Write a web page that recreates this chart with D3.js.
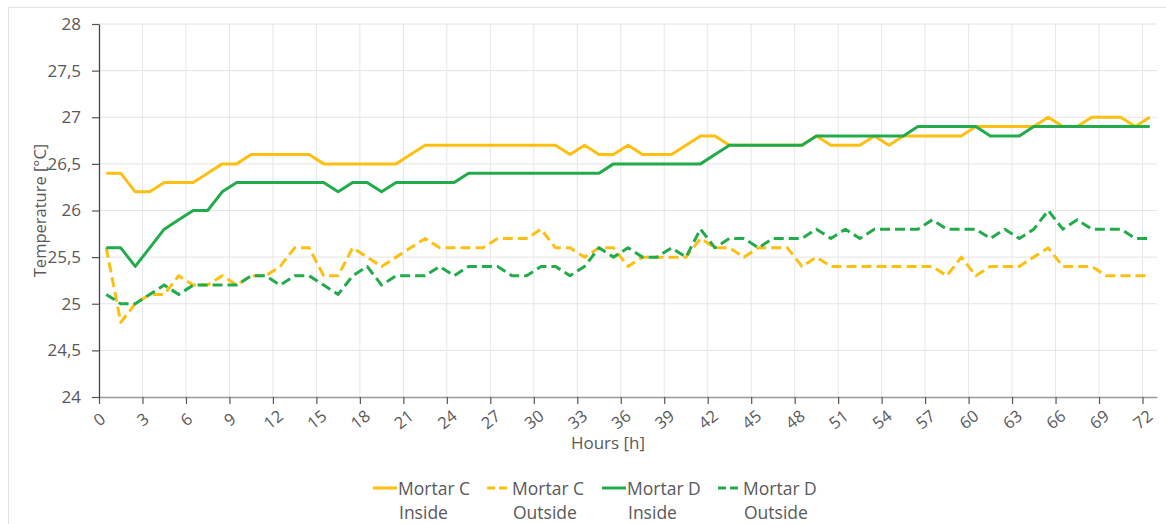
<!DOCTYPE html>
<html>
<head>
<meta charset="utf-8">
<script src="https://cdn.jsdelivr.net/npm/d3@7"></script>
<style>
  body { margin: 0; background: #fff; }
  svg { display: block; font-family: "Open Sans", sans-serif; }
</style>
</head>
<body>
<svg id="chart" width="1166" height="524"></svg>
<script>
// hourly readings, 0..72 h
const hours = d3.range(0, 73);
const xTicks = d3.range(0, 73, 3);
const yTicks = [24, 24.5, 25, 25.5, 26, 26.5, 27, 27.5, 28];

const mortarCInside = [
  26.4, 26.4, 26.2, 26.2, 26.3, 26.3, 26.3, 26.4, 26.5, 26.5,
  26.6, 26.6, 26.6, 26.6, 26.6, 26.5, 26.5, 26.5, 26.5, 26.5,
  26.5, 26.6, 26.7, 26.7, 26.7, 26.7, 26.7, 26.7, 26.7, 26.7,
  26.7, 26.7, 26.6, 26.7, 26.6, 26.6, 26.7, 26.6, 26.6, 26.6,
  26.7, 26.8, 26.8, 26.7, 26.7, 26.7, 26.7, 26.7, 26.7, 26.8,
  26.7, 26.7, 26.7, 26.8, 26.7, 26.8, 26.8, 26.8, 26.8, 26.8,
  26.9, 26.9, 26.9, 26.9, 26.9, 27.0, 26.9, 26.9, 27.0, 27.0,
  27.0, 26.9, 27.0
];
const mortarCOutside = [
  25.6, 24.8, 25.0, 25.1, 25.1, 25.3, 25.2, 25.2, 25.3, 25.2,
  25.3, 25.3, 25.4, 25.6, 25.6, 25.3, 25.3, 25.6, 25.5, 25.4,
  25.5, 25.6, 25.7, 25.6, 25.6, 25.6, 25.6, 25.7, 25.7, 25.7,
  25.8, 25.6, 25.6, 25.5, 25.6, 25.6, 25.4, 25.5, 25.5, 25.5,
  25.5, 25.7, 25.6, 25.6, 25.5, 25.6, 25.6, 25.6, 25.4, 25.5,
  25.4, 25.4, 25.4, 25.4, 25.4, 25.4, 25.4, 25.4, 25.3, 25.5,
  25.3, 25.4, 25.4, 25.4, 25.5, 25.6, 25.4, 25.4, 25.4, 25.3,
  25.3, 25.3, 25.3
];
const mortarDInside = [
  25.6, 25.6, 25.4, 25.6, 25.8, 25.9, 26.0, 26.0, 26.2, 26.3,
  26.3, 26.3, 26.3, 26.3, 26.3, 26.3, 26.2, 26.3, 26.3, 26.2,
  26.3, 26.3, 26.3, 26.3, 26.3, 26.4, 26.4, 26.4, 26.4, 26.4,
  26.4, 26.4, 26.4, 26.4, 26.4, 26.5, 26.5, 26.5, 26.5, 26.5,
  26.5, 26.5, 26.6, 26.7, 26.7, 26.7, 26.7, 26.7, 26.7, 26.8,
  26.8, 26.8, 26.8, 26.8, 26.8, 26.8, 26.9, 26.9, 26.9, 26.9,
  26.9, 26.8, 26.8, 26.8, 26.9, 26.9, 26.9, 26.9, 26.9, 26.9,
  26.9, 26.9, 26.9
];
const mortarDOutside = [
  25.1, 25.0, 25.0, 25.1, 25.2, 25.1, 25.2, 25.2, 25.2, 25.2,
  25.3, 25.3, 25.2, 25.3, 25.3, 25.2, 25.1, 25.3, 25.4, 25.2,
  25.3, 25.3, 25.3, 25.4, 25.3, 25.4, 25.4, 25.4, 25.3, 25.3,
  25.4, 25.4, 25.3, 25.4, 25.6, 25.5, 25.6, 25.5, 25.5, 25.6,
  25.5, 25.8, 25.6, 25.7, 25.7, 25.6, 25.7, 25.7, 25.7, 25.8,
  25.7, 25.8, 25.7, 25.8, 25.8, 25.8, 25.8, 25.9, 25.8, 25.8,
  25.8, 25.7, 25.8, 25.7, 25.8, 26.0, 25.8, 25.9, 25.8, 25.8,
  25.8, 25.7, 25.7
];

const series = [
  { label: ["Mortar C", "Inside"], values: mortarCInside, color: "#FDBF11", dash: null },
  { label: ["Mortar C", "Outside"], values: mortarCOutside, color: "#FDBF11", dash: "10,5" },
  { label: ["Mortar D", "Inside"], values: mortarDInside, color: "#22AB4B", dash: null },
  { label: ["Mortar D", "Outside"], values: mortarDOutside, color: "#22AB4B", dash: "10,5" }
];

const svg = d3.select("#chart");
const margin = { top: 24, right: 9, bottom: 127, left: 99 };
const width = 1166 - margin.left - margin.right;
const height = 524 - margin.top - margin.bottom;

// outer frame of the figure (cut off at right/bottom)
svg.append("rect")
  .attr("x", 8.5).attr("y", 7.5)
  .attr("width", 1200).attr("height", 600)
  .attr("fill", "none").attr("stroke", "#e3e3e3");

const g = svg.append("g").attr("transform", `translate(${margin.left},${margin.top})`);

// category-style axis: each hour occupies one slot, points sit in the middle
const x = d3.scaleLinear().domain([0, 73]).range([0, width]);
const y = d3.scaleLinear().domain([24, 28]).range([height, 0]);
const fmt = d => String(d).replace(".", ",");

// grid
g.append("g").selectAll("line").data(yTicks.slice(1)).join("line")
  .attr("x1", 0).attr("x2", width)
  .attr("y1", d => y(d)).attr("y2", d => y(d))
  .attr("stroke", "#e4e4e4").attr("stroke-width", 1);
g.append("g").selectAll("line").data(xTicks.slice(1)).join("line")
  .attr("x1", d => x(d)).attr("x2", d => x(d))
  .attr("y1", 0).attr("y2", height)
  .attr("stroke", "#e6e6e6").attr("stroke-width", 1);

// x axis
const xAxis = g.append("g")
  .attr("transform", `translate(0,${height})`)
  .call(d3.axisBottom(x).tickValues(xTicks).tickSize(7).tickSizeOuter(0).tickFormat(""));
xAxis.select(".domain").attr("stroke", "#9a9a9a").attr("stroke-width", 1.3);
xAxis.selectAll(".tick line").attr("stroke", "#555").attr("stroke-width", 1.2);
g.append("g").selectAll("text").data(xTicks).join("text")
  .attr("transform", d => `translate(${x(d)},${height + 22}) rotate(-38)`)
  .attr("text-anchor", "middle")
  .attr("dominant-baseline", "central")
  .attr("fill", "#595959")
  .attr("font-size", 16.5)
  .text(d => d);

// y axis
const yAxis = g.append("g")
  .call(d3.axisLeft(y).tickValues(yTicks).tickSize(7).tickSizeOuter(0).tickPadding(11).tickFormat(fmt));
yAxis.select(".domain").attr("stroke", "#444").attr("stroke-width", 1.3);
yAxis.selectAll(".tick line").attr("stroke", "#555").attr("stroke-width", 1.2);
yAxis.selectAll(".tick text").attr("fill", "#595959").attr("font-size", 17)
  .attr("font-family", "Open Sans, sans-serif");

// axis titles
svg.append("text")
  .attr("transform", `translate(39,${margin.top + height / 2}) rotate(-90)`)
  .attr("text-anchor", "middle")
  .attr("dominant-baseline", "central")
  .attr("fill", "#595959").attr("font-size", 16.5)
  .text("Temperature [°C]");
svg.append("text")
  .attr("x", 608).attr("y", 442)
  .attr("text-anchor", "middle")
  .attr("dominant-baseline", "central")
  .attr("fill", "#595959").attr("font-size", 17)
  .text("Hours [h]");

// lines
const line = d3.line()
  .x((d, i) => x(hours[i] + 0.5))
  .y(d => y(d));

series.forEach(s => {
  g.append("path")
    .datum(s.values)
    .attr("fill", "none")
    .attr("stroke", s.color)
    .attr("stroke-width", 3)
    .attr("stroke-linejoin", "round")
    .attr("stroke-dasharray", s.dash)
    .attr("d", line);
});

// legend
const legendX = [373, 487, 602, 718];
const legend = svg.append("g");
series.forEach((s, i) => {
  const lg = legend.append("g").attr("transform", `translate(${legendX[i]},488)`);
  lg.append("line")
    .attr("x1", 0).attr("x2", 24)
    .attr("stroke", s.color).attr("stroke-width", 3)
    .attr("stroke-dasharray", s.dash ? "8,4" : null);
  lg.append("text")
    .attr("x", 25).attr("y", 0)
    .attr("dominant-baseline", "central")
    .attr("fill", "#595959").attr("font-size", 17.5)
    .text(s.label[0]);
  lg.append("text")
    .attr("x", 26).attr("y", 23.5)
    .attr("dominant-baseline", "central")
    .attr("fill", "#595959").attr("font-size", 17.5)
    .text(s.label[1]);
});
</script>
</body>
</html>
